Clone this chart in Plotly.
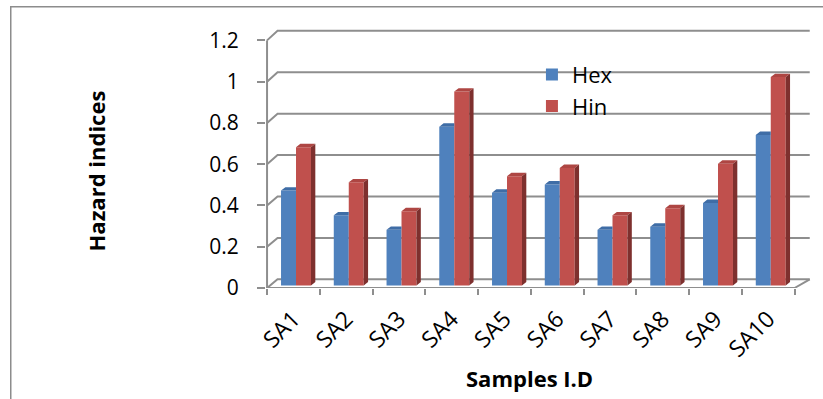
import plotly.graph_objects as go

# ---------------- data ----------------
categories = ["SA1", "SA2", "SA3", "SA4", "SA5", "SA6", "SA7", "SA8", "SA9", "SA10"]
hex_values = [0.46, 0.34, 0.27, 0.77, 0.45, 0.49, 0.27, 0.285, 0.40, 0.73]
hin_values = [0.67, 0.50, 0.36, 0.94, 0.53, 0.57, 0.34, 0.375, 0.59, 1.01]
y_ticks = [0, 0.2, 0.4, 0.6, 0.8, 1.0, 1.2]
y_tick_labels = ["0", "0.2", "0.4", "0.6", "0.8", "1", "1.2"]

# ---------------- style ----------------
FONT = "Open Sans"
BLUE, RED = "#4F81BD", "#C0504D"
BLUE_TOP, RED_TOP = "#3F6DA6", "#AE4643"
BLUE_SIDE, RED_SIDE = "#385D8A", "#7E302E"
GRID = "#8E8E8E"

# ---------------- geometry ----------------
W, H = 823, 399
PX_X, PX_Y = 52.83, 206.1          # pixels per category / per unit
X0_PX, Y0_PX = 266.7, 288.0        # pixel of x=0 / y=0 (front plane)
x_range = [-0.02, 10.35]
y_range = [0, 1.26]
ML = X0_PX + x_range[0] * PX_X
MR = W - (X0_PX + x_range[1] * PX_X)
MT = Y0_PX - y_range[1] * PX_Y
MB = H - Y0_PX
PW, PH = W - ML - MR, H - MT - MB


def px_x(p):
    return (p - ML) / PW


def px_y(p):
    return (Y0_PX - p) / PH


# back wall projection (data units)
def back_x(x):
    return 0.199 + x * 1.0089


def back_y(v):
    return v * 1.0035 + 0.042


BAR_W = 0.284
OFF_HEX, OFF_HIN = 0.265, 0.549
BASE = 0.012
DDX, DDY = 0.082, 0.0165
n = len(categories)
xpos = list(range(n))

fig = go.Figure()

fig.add_trace(go.Bar(x=xpos, y=hex_values, base=BASE, width=BAR_W, offset=OFF_HEX,
                     marker=dict(color=BLUE, line=dict(width=0)), name="Hex",
                     legendgroup="hex"))
fig.add_trace(go.Bar(x=xpos, y=hin_values, base=BASE, width=BAR_W, offset=OFF_HIN,
                     marker=dict(color=RED, line=dict(width=0)), name="Hin",
                     legendgroup="hin"))


# 3D faces derived from the data
def faces(values, off, other=None):
    tx, ty, sx, sy = [], [], [], []
    for i, v in enumerate(values):
        xl = i + off
        xr = xl + BAR_W
        y0 = BASE
        y1 = BASE + v
        if other is not None and other[i] + BASE > y1 + DDY:
            xr_top = xr
        else:
            xr_top = xr + DDX
        tx += [xl, xl + DDX, xr_top, xr, None]
        ty += [y1, y1 + DDY, y1 + DDY, y1, None]
        if other is None:
            sx += [xr, xr + DDX, xr + DDX, xr, None]
            sy += [y0, y0 + DDY, y1 + DDY, y1, None]
        elif v > other[i]:
            yb = BASE + other[i]
            sx += [xr, xr + DDX, xr + DDX, xr, None]
            sy += [yb, yb + DDY, y1 + DDY, y1, None]
    return tx, ty, sx, sy


btx, bty, bsx, bsy = faces(hex_values, OFF_HEX, other=hin_values)
rtx, rty, rsx, rsy = faces(hin_values, OFF_HIN)

for fx, fy, col in [(btx, bty, BLUE_TOP), (bsx, bsy, BLUE_SIDE),
                    (rtx, rty, RED_TOP), (rsx, rsy, RED_SIDE)]:
    if fx:
        fig.add_trace(go.Scatter(x=fx, y=fy, mode="lines", fill="toself",
                                 fillcolor=col, line=dict(width=0, color=col),
                                 hoverinfo="skip", showlegend=False))

# ---------------- walls / grid (shapes below traces) ----------------
shapes = []
for v in y_ticks:
    path = (f"M0,{v} L{back_x(0)},{back_y(v)} L{back_x(n)},{back_y(v)}")
    shapes.append(dict(type="path", path=path, xref="x", yref="y", layer="below",
                       line=dict(color=GRID, width=2)))
# floor front edge and right edge
shapes.append(dict(type="path", path=f"M0,0 L{n},0 L{back_x(n)},{back_y(0)}",
                   xref="x", yref="y", layer="below", line=dict(color=GRID, width=2)))
# front vertical axis line
shapes.append(dict(type="line", x0=0, x1=0, y0=0, y1=y_ticks[-1], xref="x", yref="y",
                   layer="below", line=dict(color=GRID, width=2)))
# outer chart border
shapes.append(dict(type="rect", xref="paper", yref="paper",
                   x0=px_x(10), x1=px_x(840), y0=px_y(420), y1=px_y(7),
                   line=dict(color="#8C8C8C", width=1.5), fillcolor="rgba(0,0,0,0)",
                   layer="below"))

fig.update_layout(
    width=W, height=H,
    margin=dict(l=ML, r=MR, t=MT, b=MB, pad=0),
    paper_bgcolor="white", plot_bgcolor="white",
    barmode="overlay",
    shapes=shapes,
    font=dict(family=FONT, color="black", size=20),
    showlegend=True,
    legend=dict(x=px_x(532), y=px_y(54), xanchor="left", yanchor="top",
                traceorder="grouped", tracegroupgap=0,
                bgcolor="rgba(0,0,0,0)", font=dict(size=22, family=FONT)),
    xaxis=dict(range=x_range, showgrid=False, zeroline=False, showline=False,
               tickmode="array", tickvals=[i + 0.5 for i in xpos], ticktext=categories,
               ticks="", tickangle=-45, tickfont=dict(size=23),
               ticklabelstandoff=12,
               minor=dict(tickmode="linear", tick0=0, dtick=1, ticks="outside",
                          ticklen=6, tickcolor=GRID, tickwidth=2)),
    yaxis=dict(range=y_range, showgrid=False, zeroline=False, showline=False,
               tickmode="array", tickvals=y_ticks, ticktext=y_tick_labels,
               ticks="outside", ticklen=8, tickcolor=GRID, tickwidth=2,
               tickfont=dict(size=21), ticklabelstandoff=14),
    annotations=[
        dict(text="<b>Hazard indices</b>", xref="paper", yref="paper",
             x=px_x(95), y=px_y(171), xanchor="center", yanchor="middle",
             textangle=-90, showarrow=False, font=dict(size=22, family=FONT)),
        dict(text="<b>Samples I.D</b>", xref="paper", yref="paper",
             x=px_x(530), y=px_y(378), xanchor="center", yanchor="middle",
             showarrow=False, font=dict(size=22, family=FONT)),
    ],
)

fig.write_html("out.html")
